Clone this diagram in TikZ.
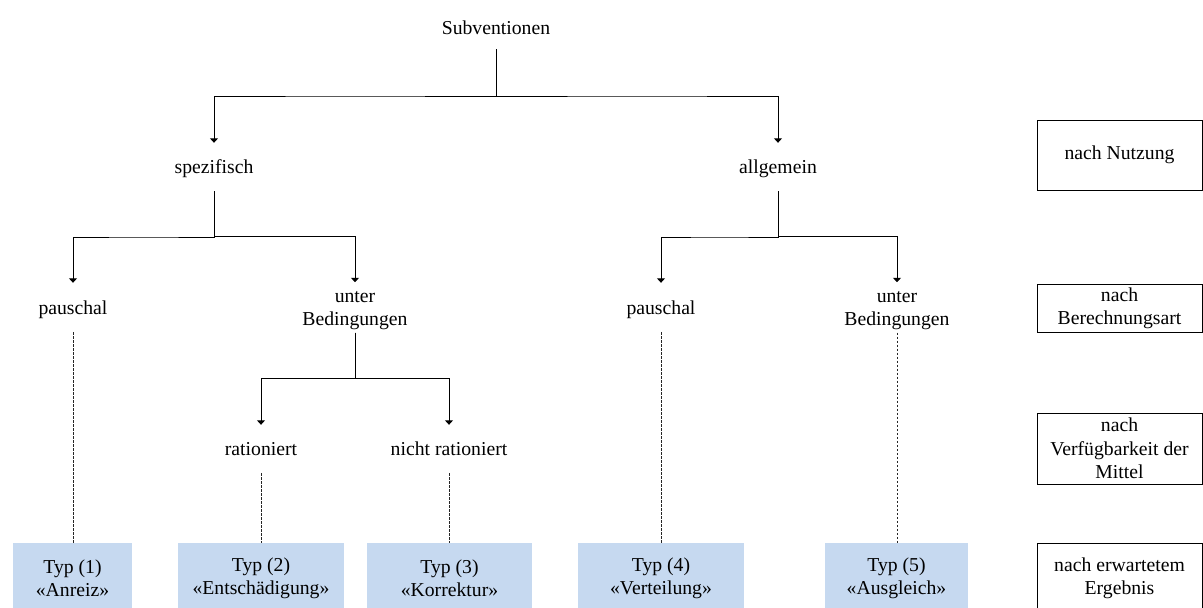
\documentclass[tikz,border=0pt]{standalone}
\usepackage{fontspec}
\setmainfont{Liberation Serif}
\usetikzlibrary{arrows.meta,calc}
\definecolor{typblue}{RGB}{198,217,240}
\newcommand{\mytwolines}[2]{\begin{tabular}{@{}c@{}}\rule{0pt}{19.8pt}#1\\#2\end{tabular}}
\begin{document}
\begin{tikzpicture}[x=1pt,y=-1pt,
  font=\fontsize{19.7}{23.3}\selectfont,
  lbl/.style={inner sep=0pt, align=center, minimum height=48pt,
    execute at begin node={\rule[-4.3pt]{0pt}{21.8pt}}},
  lbltwo/.style={inner sep=0pt, minimum height=49pt},
  arr/.style={line width=0.9pt, -{Triangle[width=8pt,length=4.5pt]}},
  dsh/.style={line width=0.8pt, dash pattern=on 2.5pt off 1.5pt, draw=black!85},
  typ/.style={fill=typblue, inner sep=0pt, align=center, minimum height=71pt},
  crit/.style={draw, line width=0.8pt, inner sep=0pt, align=center, minimum width=165pt}]
\useasboundingbox (0,0) rectangle (1203,608);

% tree labels
\node[inner sep=0pt, minimum height=43pt] (sub) at (496,27.5) {Subventionen};
\node[lbl] (spez) at (214,167) {spezifisch};
\node[lbl] (allg) at (778,167) {allgemein};
\node[lbl, minimum height=49pt] (pL) at (73,307.5) {pauschal};
\node[lbltwo] (uL) at (355,307.5) {\mytwolines{unter}{Bedingungen}};
\node[lbl, minimum height=49pt] (pR) at (661,307.5) {pauschal};
\node[lbltwo] (uR) at (897,307.5) {\mytwolines{unter}{Bedingungen}};
\node[lbl] (rat) at (261,449) {rationiert};
\node[lbl] (nrat) at (449,449) {nicht rationiert};

% result types
\node[typ, minimum width=119pt] (t1) at (72.5,578.5) {Typ (1)\\«Anreiz»};
\node[typ, minimum width=166pt] (t2) at (261,578.5) {Typ (2)\\«Entschädigung»};
\node[typ, minimum width=165pt] (t3) at (449.5,578.5) {Typ (3)\\«Korrektur»};
\node[typ, minimum width=166pt] (t4) at (661,578.5) {Typ (4)\\«Verteilung»};
\node[typ, minimum width=143pt] (t5) at (896.5,578.5) {Typ (5)\\«Ausgleich»};

% criteria
\node[crit, minimum height=70pt] (c1) at (1119.5,155) {nach Nutzung};
\node[crit, minimum height=48pt] (c2) at (1119.5,308) {nach\\Berechnungsart};
\node[crit, minimum height=71pt] (c3) at (1119.5,448.5) {nach\\Verfügbarkeit der\\Mittel};
\node[crit, minimum height=71pt] (c4) at (1119.5,578.5) {nach erwartetem\\Ergebnis};

% connectors
\draw[arr] (sub.south) |- ($(sub.south)!.5!(spez.north)$) -| (spez.north);
\draw[arr] (sub.south) |- ($(sub.south)!.5!(allg.north)$) -| (allg.north);
\draw[arr] (spez.south) |- ($(spez.south)!.5!(pL.north)$) -| (pL.north);
\draw[arr] (spez.south) |- ($(spez.south)!.5!(uL.north)$) -| (uL.north);
\draw[arr] (allg.south) |- ($(allg.south)!.5!(pR.north)$) -| (pR.north);
\draw[arr] (allg.south) |- ($(allg.south)!.5!(uR.north)$) -| (uR.north);
\draw[arr] (uL.south) |- ($(uL.south)!.5!(rat.north)$) -| (rat.north);
\draw[arr] (uL.south) |- ($(uL.south)!.5!(nrat.north)$) -| (nrat.north);

% dashed links to types
\draw[dsh] (pL.south) -- (pL.south |- t1.north);
\draw[dsh] (rat.south) -- (rat.south |- t2.north);
\draw[dsh] (nrat.south) -- (nrat.south |- t3.north);
\draw[dsh] (pR.south) -- (pR.south |- t4.north);
\draw[dsh] (uR.south) -- (uR.south |- t5.north);
\end{tikzpicture}
\end{document}
